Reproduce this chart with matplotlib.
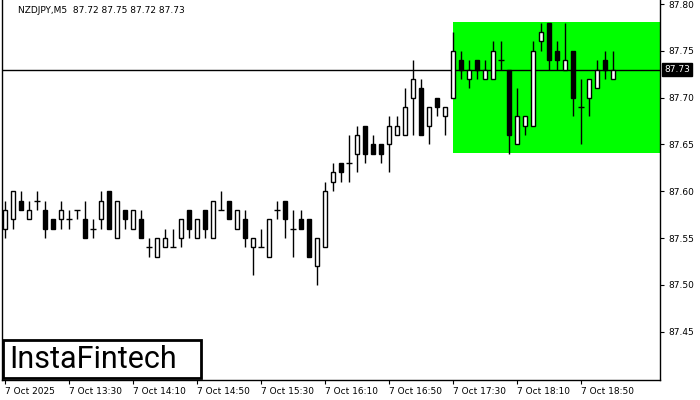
import matplotlib
matplotlib.use("Agg")
import matplotlib.pyplot as plt
from matplotlib.patches import Rectangle
import numpy as np

# NZDJPY M5 candles, 7 Oct 2025 from 12:50
opens = [87.56, 87.57, 87.59, 87.57, 87.59, 87.58, 87.57, 87.57, 87.57, 87.58,
         87.57, 87.56, 87.57, 87.60, 87.55, 87.58, 87.56, 87.57, 87.54, 87.53,
         87.54, 87.54, 87.55, 87.58, 87.55, 87.58, 87.55, 87.58, 87.59, 87.56,
         87.57, 87.54, 87.54, 87.53, 87.58, 87.59, 87.56, 87.57, 87.57, 87.52,
         87.54, 87.61, 87.63, 87.63, 87.64, 87.67, 87.65, 87.65, 87.65, 87.66,
         87.66, 87.70, 87.71, 87.67, 87.70, 87.68, 87.70, 87.74, 87.72, 87.74,
         87.72, 87.72, 87.74, 87.73, 87.65, 87.67, 87.67, 87.76, 87.78, 87.75,
         87.73, 87.75, 87.69, 87.70, 87.71, 87.74, 87.72]
highs = [87.59, 87.60, 87.60, 87.59, 87.60, 87.59, 87.57, 87.59, 87.58, 87.58,
         87.59, 87.57, 87.60, 87.60, 87.59, 87.58, 87.58, 87.58, 87.55, 87.55,
         87.56, 87.56, 87.57, 87.58, 87.57, 87.58, 87.59, 87.60, 87.59, 87.58,
         87.58, 87.55, 87.56, 87.57, 87.59, 87.59, 87.58, 87.58, 87.57, 87.55,
         87.61, 87.63, 87.63, 87.66, 87.67, 87.67, 87.66, 87.65, 87.68, 87.68,
         87.71, 87.74, 87.72, 87.69, 87.70, 87.69, 87.77, 87.75, 87.74, 87.74,
         87.74, 87.76, 87.76, 87.73, 87.71, 87.68, 87.76, 87.78, 87.78, 87.76,
         87.78, 87.75, 87.72, 87.72, 87.74, 87.75, 87.75]
lows = [87.55, 87.56, 87.58, 87.57, 87.58, 87.55, 87.56, 87.56, 87.56, 87.57,
        87.55, 87.55, 87.56, 87.56, 87.55, 87.56, 87.56, 87.55, 87.53, 87.53,
        87.54, 87.54, 87.54, 87.55, 87.55, 87.55, 87.55, 87.58, 87.57, 87.56,
        87.54, 87.51, 87.54, 87.53, 87.57, 87.55, 87.53, 87.56, 87.53, 87.50,
        87.54, 87.60, 87.61, 87.61, 87.62, 87.63, 87.64, 87.63, 87.62, 87.66,
        87.66, 87.66, 87.66, 87.65, 87.68, 87.66, 87.70, 87.72, 87.71, 87.72,
        87.72, 87.72, 87.73, 87.64, 87.65, 87.66, 87.67, 87.75, 87.73, 87.73,
        87.73, 87.68, 87.65, 87.68, 87.71, 87.72, 87.72]
closes = [87.58, 87.60, 87.58, 87.58, 87.59, 87.56, 87.56, 87.58, 87.57, 87.58,
          87.55, 87.56, 87.59, 87.56, 87.59, 87.57, 87.58, 87.55, 87.54, 87.55,
          87.55, 87.54, 87.57, 87.56, 87.57, 87.56, 87.59, 87.58, 87.57, 87.58,
          87.55, 87.55, 87.54, 87.57, 87.58, 87.57, 87.56, 87.56, 87.53, 87.55,
          87.60, 87.62, 87.62, 87.63, 87.66, 87.64, 87.64, 87.64, 87.67, 87.67,
          87.69, 87.72, 87.66, 87.69, 87.69, 87.69, 87.75, 87.73, 87.73, 87.73,
          87.73, 87.75, 87.74, 87.66, 87.68, 87.68, 87.75, 87.77, 87.74, 87.74,
          87.74, 87.70, 87.69, 87.72, 87.73, 87.73, 87.73]

tick_idx = [0, 8, 16, 24, 32, 40, 48, 56, 64, 72]
tick_labels = ["7 Oct 2025", "7 Oct 13:30", "7 Oct 14:10", "7 Oct 14:50", "7 Oct 15:30",
               "7 Oct 16:10", "7 Oct 16:50", "7 Oct 17:30", "7 Oct 18:10", "7 Oct 18:50"]
price_ticks = [87.45, 87.50, 87.55, 87.60, 87.65, 87.70, 87.75, 87.80]

zone_start = 56
zone_low, zone_high = 87.641, 87.781
last_price = 87.73

fig = plt.figure(figsize=(7, 4), dpi=100)
ax = fig.add_axes([2/700, 20/400, 658/700, 380/400])

x = np.arange(len(opens))
o = np.array(opens); h = np.array(highs); l = np.array(lows); c = np.array(closes)

xmin, xmax = -0.375, -0.375 + 658/8
ax.set_xlim(xmin, xmax)
ax.set_ylim(87.3983, 87.8043)

# green zone
ax.add_patch(Rectangle((zone_start, zone_low), xmax - zone_start, zone_high - zone_low,
                       facecolor="#00ff00", edgecolor="none", zorder=0))
ax.axhline(last_price, color="black", lw=1, zorder=1)

ax.vlines(x, l, h, color="black", lw=1, zorder=2)
bw = 0.6
for i in x:
    if abs(c[i] - o[i]) < 1e-9:
        ax.hlines(o[i], i - bw/2 - 0.1, i + bw/2 + 0.1, color="black", lw=1, zorder=3)
    else:
        fc = "white" if c[i] > o[i] else "black"
        ax.bar(i, abs(c[i] - o[i]), bottom=min(o[i], c[i]), width=bw,
               facecolor=fc, edgecolor="black", lw=1, zorder=3)

ax.spines["top"].set_visible(False)
for s in ["left", "right", "bottom"]:
    ax.spines[s].set_linewidth(1)

ax.yaxis.tick_right()
ax.set_yticks(price_ticks)
ax.set_yticklabels([f"{p:.2f}" for p in price_ticks])
ax.tick_params(axis="y", direction="out", length=3, pad=3, labelsize=6.5)
ax.set_xticks(tick_idx)
ax.set_xticklabels(tick_labels, ha="left")
ax.tick_params(axis="x", direction="out", length=3, pad=2, labelsize=6.5)

ax.text(0.025, 0.985, "NZDJPY,M5  87.72 87.75 87.72 87.73", transform=ax.transAxes,
        fontsize=6.5, va="top", ha="left")

# current price tag
ax.text(1.006, last_price, "87.73", transform=ax.get_yaxis_transform(), fontsize=6.5,
        color="white", va="center", ha="left",
        bbox=dict(boxstyle="square,pad=0.2", facecolor="black", edgecolor="black"))

# logo box
ax.add_patch(Rectangle((3/700, 22/400), 198/700, 38/400, transform=fig.transFigure,
                       facecolor="white", edgecolor="black", lw=2, zorder=5))
fig.text(9/700, 40/400, "InstaFintech", fontsize=22, family="Roboto",
         va="center", ha="left", zorder=6)

fig.savefig("out.png", dpi=100)
